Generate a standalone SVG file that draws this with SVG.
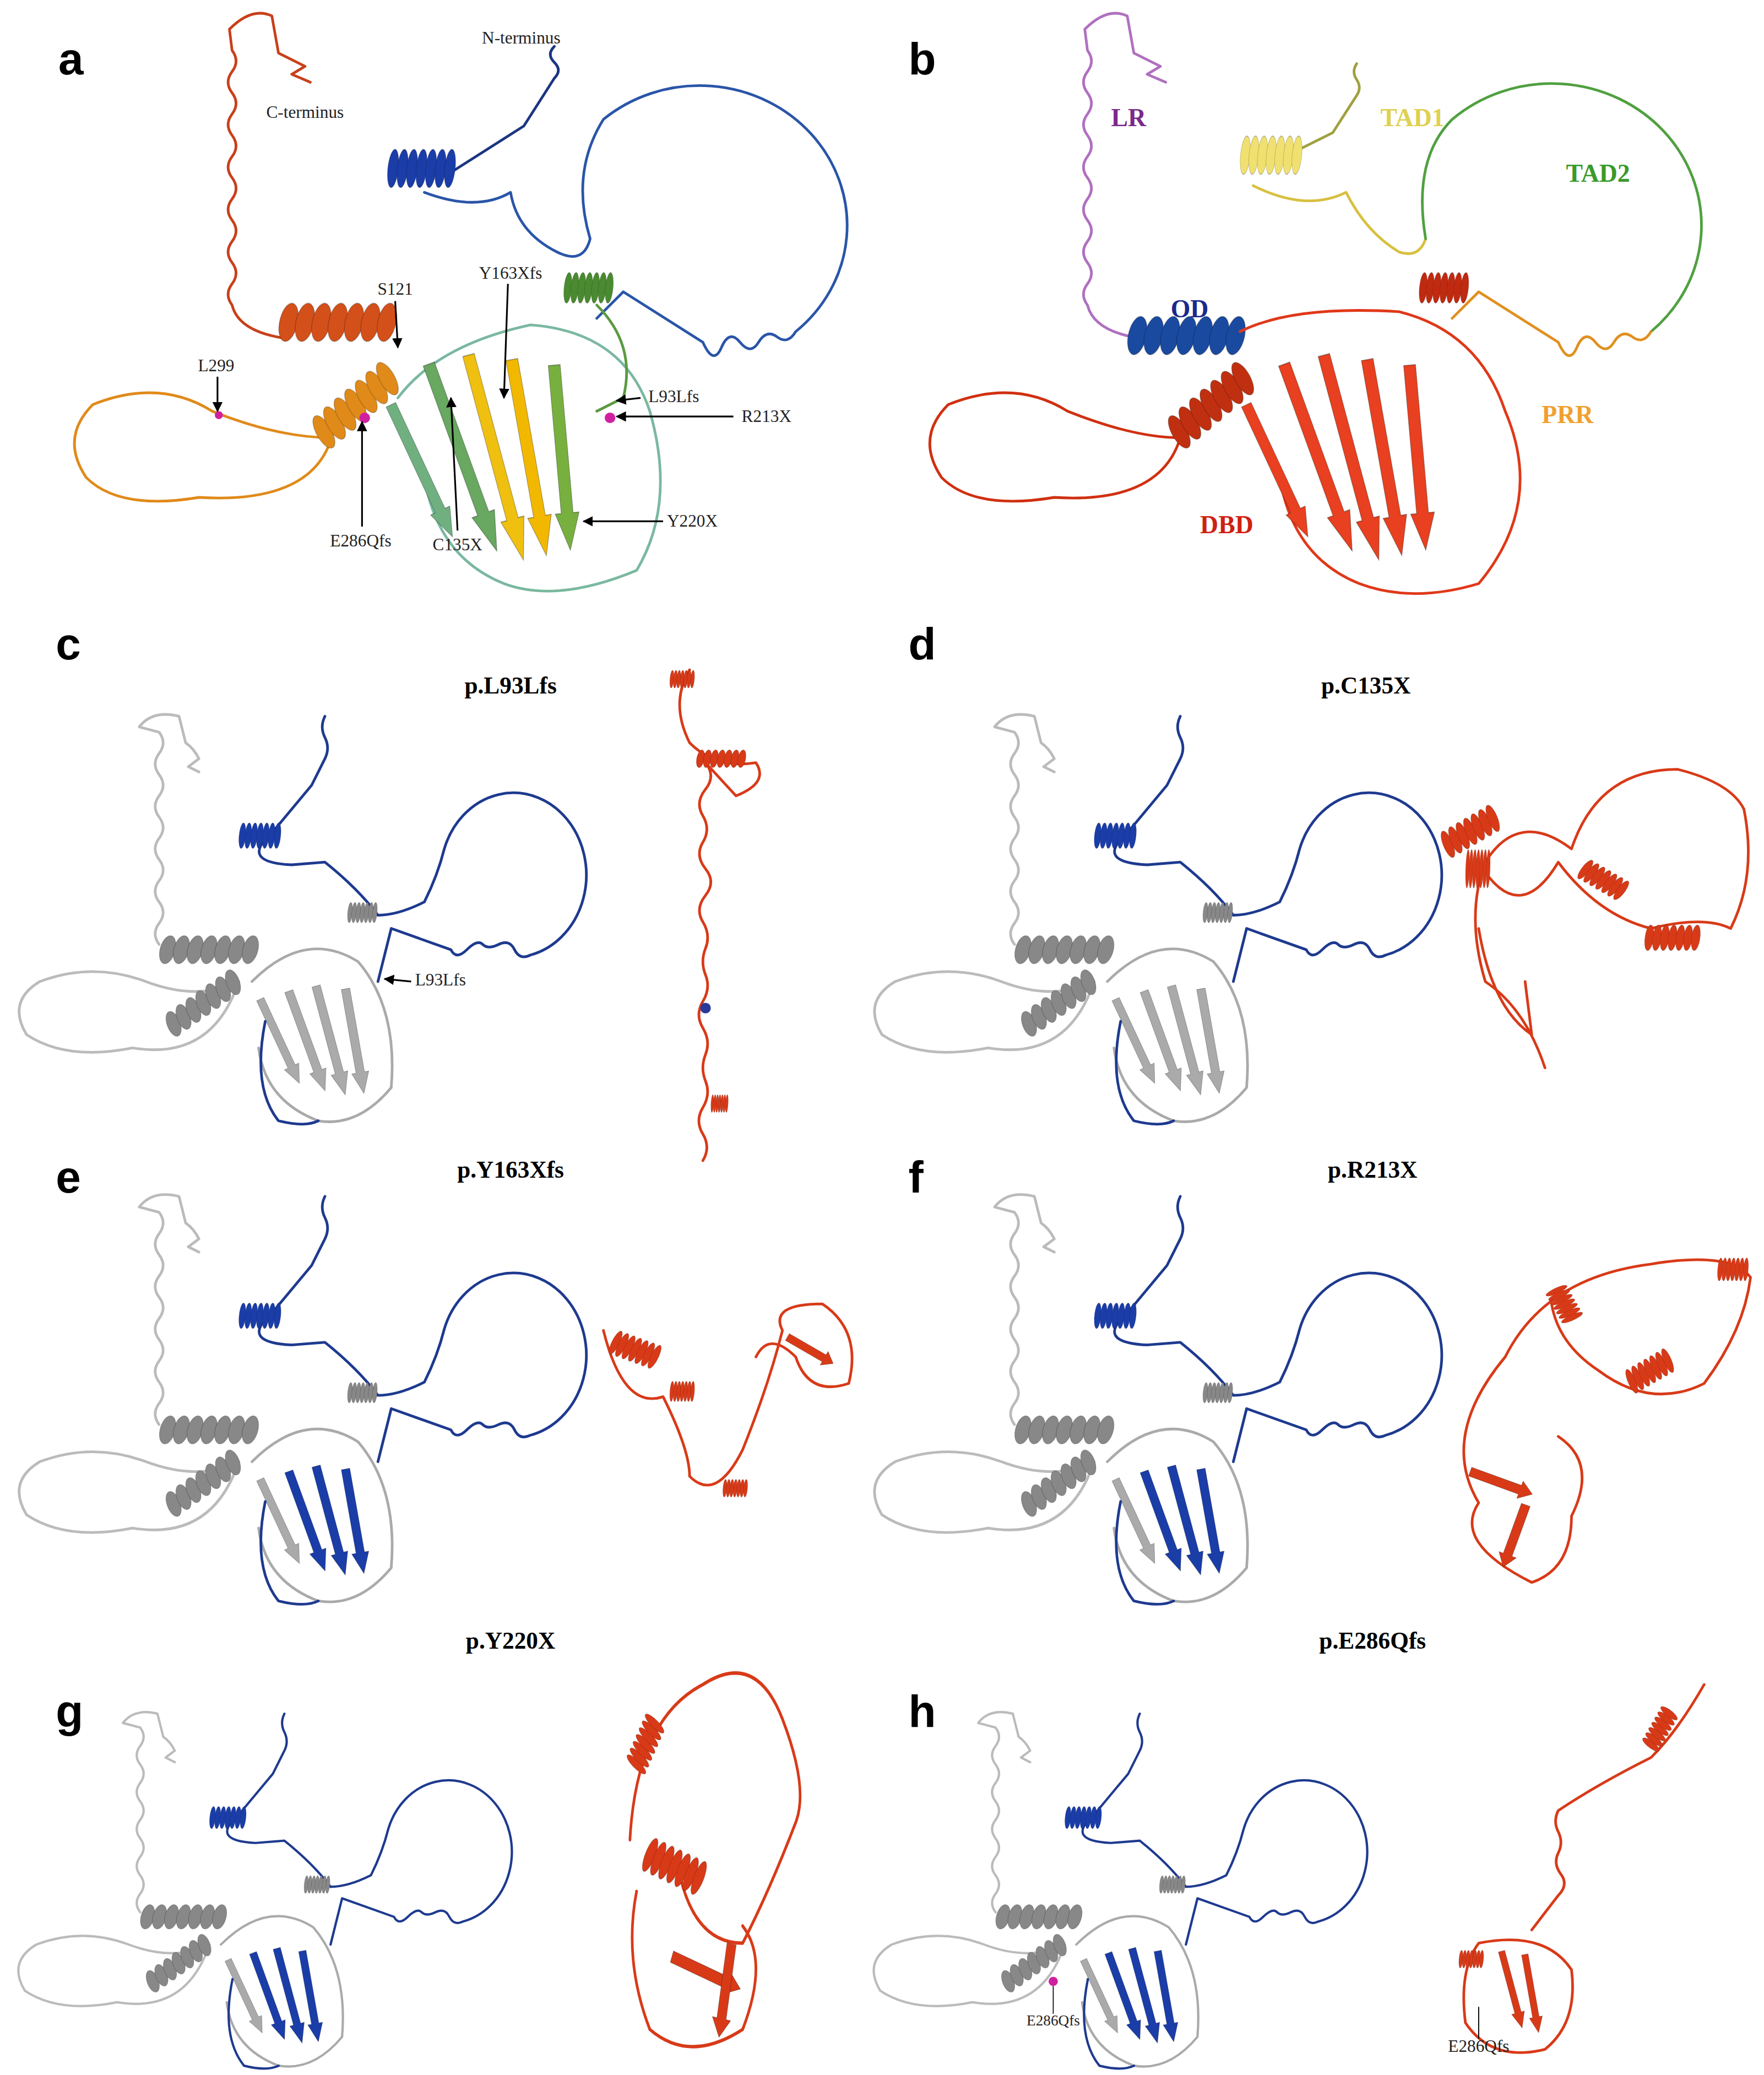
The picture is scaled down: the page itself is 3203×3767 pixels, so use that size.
<svg xmlns="http://www.w3.org/2000/svg" xmlns:xlink="http://www.w3.org/1999/xlink" width="3203" height="3767" viewBox="0 0 3203 3767">
<style>
.pl{font-family:"Liberation Sans",Arial,sans-serif;font-weight:bold;font-size:34px;fill:#000}
.ti{font-family:"Liberation Serif","Times New Roman",serif;font-weight:bold;font-size:18px;fill:#000;text-anchor:middle}
.lb{font-family:"Liberation Serif","Times New Roman",serif;font-size:13px;fill:#222}
.dm{font-family:"Liberation Serif","Times New Roman",serif;font-weight:bold;font-size:19px}
.w{fill:none;stroke-width:2;stroke-linecap:round;stroke-linejoin:round}
.ar{stroke:#000;stroke-width:1.3;fill:none;marker-end:url(#ah)}
</style>
<defs>
<marker id="ah" viewBox="0 0 10 10" refX="9" refY="5" markerWidth="6" markerHeight="6" orient="auto"><path d="M0,0 L10,5 L0,10 z" fill="#000"/></marker>
<symbol id="helix" viewBox="0 0 100 24" preserveAspectRatio="none" overflow="visible">
<g fill="currentColor" stroke="#000" stroke-opacity="0.25" stroke-width="0.6">
<ellipse cx="8" cy="12" rx="7" ry="12" transform="rotate(20 8 12)"/><ellipse cx="21" cy="12" rx="7" ry="12" transform="rotate(20 21 12)"/><ellipse cx="34" cy="12" rx="7" ry="12" transform="rotate(20 34 12)"/><ellipse cx="47" cy="12" rx="7" ry="12" transform="rotate(20 47 12)"/><ellipse cx="60" cy="12" rx="7" ry="12" transform="rotate(20 60 12)"/><ellipse cx="73" cy="12" rx="7" ry="12" transform="rotate(20 73 12)"/><ellipse cx="86" cy="12" rx="7" ry="12" transform="rotate(20 86 12)"/></g>
</symbol>
<symbol id="beta" viewBox="0 0 20 100" preserveAspectRatio="none" overflow="visible"><path d="M5,0 L15,0 L15,80 L20,80 L10,100 L0,80 L5,80 z" fill="currentColor" stroke="#000" stroke-opacity="0.3" stroke-width="0.6"/></symbol>
<symbol id="tmpl" overflow="visible">
<path class="w" stroke="#bbb" d="M120,712 q-6,-8 0,-16 t0,-16 t0,-16 t0,-16 t0,-16 t0,-16 t0,-16 t0,-16 t0,-16 t0,-16 L105,548 Q115,535 135,540 L140,560 q6,4 10,12 l-8,6 l8,4"/>
<path class="w" stroke="#1e3a8f" d="M245,540 q-4,8 0,16 t0,16 l-10,20 L205,628 Q180,650 220,652 L245,650 Q270,670 285,690 Q300,690 320,680 Q330,660 335,640 A55,62 0 1 1 400,720 q-8,4 -12,-4 t-12,-4 t-12,0 t-12,4 t-12,0 L295,700 L285,740"/>
<use href="#helix" x="180" y="620" width="34" height="20" color="#1a3da8"/>
<path class="w" stroke="#bbb" d="M180,740 Q160,800 100,790 Q50,800 20,780 Q5,755 30,740 Q70,725 110,740 Q150,755 180,740"/>
<use href="#helix" x="120" y="705" width="80" height="22" color="#888"/>
<use href="#helix" x="120" y="720" width="70" height="20" color="#888" transform="rotate(-35 155 755) translate(0 25)"/>
<path class="w" stroke="#aaa" d="M190,740 Q230,700 270,725 Q300,760 295,820 Q270,850 240,845 Q200,830 195,790"/>
<use href="#beta" x="225" y="745" width="13" height="80" transform="rotate(-20 231 785)"/>
<use href="#beta" x="243" y="742" width="13" height="85" transform="rotate(-15 249 785)"/>
<use href="#beta" x="261" y="745" width="13" height="80" transform="rotate(-10 267 785)"/>
<use href="#beta" x="205" y="750" width="12" height="70" color="#aaa" transform="rotate(-25 211 785)"/>
<use href="#helix" x="262" y="680" width="24" height="16" color="#888"/>
<path class="w" stroke="#1e3a8f" d="M200,770 Q190,820 210,845 Q230,850 240,845"/>
</symbol>
</defs>
<rect width="3203" height="3767" fill="#fff"/>
<g transform="scale(2.408)">
<g id="labels">
<text class="pl" x="44" y="56">a</text><text class="pl" x="685" y="56">b</text>
<text class="pl" x="42" y="497">c</text><text class="pl" x="685" y="497">d</text>
<text class="pl" x="42" y="899">e</text><text class="pl" x="685" y="899">f</text>
<text class="pl" x="42" y="1302">g</text><text class="pl" x="685" y="1302">h</text>
<text class="ti" x="385" y="523">p.L93Lfs</text><text class="ti" x="1030" y="523">p.C135X</text>
<text class="ti" x="385" y="888">p.Y163Xfs</text><text class="ti" x="1035" y="888">p.R213X</text>
<text class="ti" x="385" y="1243">p.Y220X</text><text class="ti" x="1035" y="1243">p.E286Qfs</text>
</g>
<g id="panel-a">
<path class="w" stroke="#c8401a" d="M215,255 Q180,250 175,230 q-6,-8 0,-16 t0,-16 t0,-16 t0,-16 t0,-16 t0,-16 t0,-16 t0,-16 t0,-16 t0,-16 t0,-16 t0,-16 L173,22 Q190,5 205,12 L210,40 q8,4 20,10 l-10,6 l14,6"/>
<path class="w" stroke="#1b3680" d="M418,35 q-6,6 0,12 t0,12 L395,95 L340,130"/>
<use href="#helix" x="292" y="112" width="55" height="30" color="#1a3da8"/>
<path class="w" stroke="#2a55a8" d="M320,145 Q360,160 385,145 Q390,175 420,190 Q440,200 445,180 Q430,130 455,90 A95,90 0 1 1 600,250 q-6,10 -14,4 t-14,4 t-14,0 t-14,4 t-14,-4 L470,220 L450,240"/>
<path class="w" stroke="#e08a1a" d="M250,330 Q235,380 150,375 Q90,385 65,360 Q45,330 70,305 Q120,285 160,310 Q210,330 250,330"/>
<use href="#helix" x="210" y="228" width="95" height="30" color="#d4501a"/>
<use href="#helix" x="230" y="290" width="80" height="28" color="#e08a1a" transform="rotate(-40 270 304)"/>
<path class="w" stroke="#7ab8a0" d="M300,300 Q330,260 400,245 Q470,250 490,310 Q510,380 480,430 Q420,455 380,440 Q330,420 320,360"/>
<use href="#beta" x="340" y="270" width="18" height="150" color="#68a860" transform="rotate(-20 349 345)"/>
<use href="#beta" x="365" y="265" width="18" height="160" color="#f0c010" transform="rotate(-15 374 345)"/>
<use href="#beta" x="390" y="270" width="18" height="150" color="#f2b800" transform="rotate(-10 399 345)"/>
<use href="#beta" x="415" y="275" width="18" height="140" color="#78b040" transform="rotate(-5 424 345)"/>
<use href="#beta" x="310" y="300" width="16" height="110" color="#70b080" transform="rotate(-25 318 355)"/>
<use href="#helix" x="425" y="205" width="40" height="24" color="#4a8a30"/>
<path class="w" stroke="#5a9a40" d="M450,230 Q480,260 470,300 L450,310"/>
<circle cx="165" cy="313" r="3" fill="#d020a0"/><circle cx="275" cy="315" r="4" fill="#d020a0"/><circle cx="460" cy="315" r="4" fill="#d020a0"/>
<text class="lb" x="393" y="33" text-anchor="middle">N-terminus</text>
<text class="lb" x="230" y="89" text-anchor="middle">C-terminus</text>
<text class="lb" x="298" y="222" text-anchor="middle">S121</text>
<text class="lb" x="385" y="210" text-anchor="middle">Y163Xfs</text>
<text class="lb" x="163" y="280" text-anchor="middle">L299</text>
<text class="lb" x="508" y="303" text-anchor="middle">L93Lfs</text>
<text class="lb" x="578" y="318" text-anchor="middle">R213X</text>
<text class="lb" x="272" y="412" text-anchor="middle">E286Qfs</text>
<text class="lb" x="345" y="415" text-anchor="middle">C135X</text>
<text class="lb" x="522" y="397" text-anchor="middle">Y220X</text>
<path class="ar" d="M298,227 L300,262"/><path class="ar" d="M383,214 L380,300"/>
<path class="ar" d="M164,284 L164,310"/><path class="ar" d="M483,300 L465,302"/>
<path class="ar" d="M553,314 L465,314"/><path class="ar" d="M273,397 L273,318"/>
<path class="ar" d="M345,400 L340,300"/><path class="ar" d="M500,393 L440,393"/>
</g>
<g id="panel-b" transform="translate(645 0)">
<path class="w" stroke="#b070c0" d="M215,255 Q180,250 175,230 q-6,-8 0,-16 t0,-16 t0,-16 t0,-16 t0,-16 t0,-16 t0,-16 t0,-16 t0,-16 t0,-16 t0,-16 t0,-16 L173,22 Q190,5 205,12 L210,40 q8,4 20,10 l-10,6 l14,6"/>
<path class="w" stroke="#a0a040" d="M378,48 q-4,6 0,12 t0,12 L360,100 L330,115"/>
<use href="#helix" x="290" y="102" width="50" height="30" color="#f0e070"/>
<path class="w" stroke="#d8c040" d="M300,140 Q340,160 370,145 Q385,175 410,190 Q425,195 430,180"/>
<path class="w" stroke="#50a040" d="M430,180 Q420,120 450,90 A95,90 0 1 1 600,250"/>
<path class="w" stroke="#e09020" d="M600,250 q-6,10 -14,4 t-14,4 t-14,0 t-14,4 t-14,-4 L470,220 L450,240"/>
<path class="w" stroke="#d03010" d="M245,330 Q230,380 150,375 Q90,385 65,360 Q45,330 70,305 Q120,285 160,310 Q210,330 245,330"/>
<use href="#helix" x="205" y="238" width="95" height="30" color="#1a4aa0"/>
<use href="#helix" x="230" y="290" width="80" height="28" color="#c03010" transform="rotate(-40 270 304)"/>
<path class="w" stroke="#e03818" d="M290,250 Q330,230 410,235 Q470,250 490,310 Q520,380 470,440 Q420,455 380,440 Q330,420 320,360"/>
<g color="#e84020">
<use href="#beta" x="340" y="270" width="18" height="150" transform="rotate(-20 349 345)"/>
<use href="#beta" x="365" y="265" width="18" height="160" transform="rotate(-15 374 345)"/>
<use href="#beta" x="390" y="270" width="18" height="150" transform="rotate(-10 399 345)"/>
<use href="#beta" x="415" y="275" width="18" height="140" transform="rotate(-5 424 345)"/>
<use href="#beta" x="310" y="300" width="16" height="110" transform="rotate(-25 318 355)"/>
</g>
<use href="#helix" x="425" y="205" width="40" height="24" color="#c02a10"/>
<text class="dm" x="206" y="95" text-anchor="middle" fill="#7a2a8a">LR</text>
<text class="dm" x="420" y="95" text-anchor="middle" fill="#e0d050">TAD1</text>
<text class="dm" x="560" y="137" text-anchor="middle" fill="#3a9a2a">TAD2</text>
<text class="dm" x="252" y="239" text-anchor="middle" fill="#1a2a8a">OD</text>
<text class="dm" x="537" y="319" text-anchor="middle" fill="#f0a030">PRR</text>
<text class="dm" x="280" y="402" text-anchor="middle" fill="#d02010">DBD</text>
</g>
<g id="panel-c"><use href="#tmpl" color="#aaa"/>
<text class="lb" x="313" y="743" font-size="7">L93Lfs</text><path class="ar" d="M310,740 L290,738" stroke-width="0.6"/>
<path class="w" stroke="#d83a18" stroke-width="1" d="M530,875 q6,-10 0,-20 t0,-20 t2,-20 t0,-20 t-2,-20 t0,-20 t2,-20 t0,-20 t-2,-20 t2,-20 t0,-20 t-2,-20 t0,-20 t2,-20 t0,-20 L555,600 Q580,590 570,575 Q540,580 520,560 Q505,530 520,505"/>
<use href="#helix" x="525" y="565" width="40" height="14" color="#d83a18"/><use href="#helix" x="505" y="505" width="20" height="14" color="#d83a18"/>
<circle cx="532" cy="760" r="4" fill="#2a3a9a"/><use href="#helix" x="536" y="825" width="14" height="14" color="#d83a18"/>
</g>
<g id="panel-d" transform="translate(645 0)"><use href="#tmpl" color="#aaa"/>
<path class="w" stroke="#d83a18" stroke-width="1.2" d="M520,805 Q505,760 475,740 Q460,690 475,650 Q500,610 540,640 Q560,580 620,580 Q660,590 670,610 Q680,660 660,700 Q640,690 600,700 Q560,690 530,650 Q500,700 470,650"/>
<use href="#helix" x="440" y="615" width="50" height="22" color="#d83a18" transform="rotate(-30 465 626)"/>
<use href="#helix" x="545" y="655" width="40" height="18" color="#d83a18" transform="rotate(30 565 664)"/>
<use href="#helix" x="595" y="697" width="45" height="20" color="#d83a18"/>
<use href="#helix" x="460" y="640" width="20" height="30" color="#d83a18"/>
<path class="w" stroke="#d83a18" stroke-width="1" d="M470,700 Q480,760 510,780 L505,740"/>
</g>
<g id="panel-e">
<use href="#tmpl" color="#1a3da8" transform="translate(0 362)"/>
<g transform="translate(0 403)">
<path class="w" stroke="#d83a18" stroke-width="1.1" d="M455,600 Q470,660 500,650 Q520,690 520,710 Q540,730 560,690 Q580,640 590,600 Q580,580 620,580 Q650,600 640,640 Q610,650 600,620 Q580,600 570,620"/>
<use href="#helix" x="460" y="605" width="40" height="20" color="#d83a18" transform="rotate(20 480 615)"/>
<use href="#helix" x="505" y="638" width="20" height="16" color="#d83a18"/><use href="#helix" x="545" y="712" width="20" height="14" color="#d83a18"/>
<use href="#beta" x="605" y="595" width="12" height="40" color="#d83a18" transform="rotate(-60 611 615)"/>
</g></g>
<g id="panel-f" transform="translate(645 0)">
<use href="#tmpl" color="#1a3da8" transform="translate(0 362)"/>
<g transform="translate(0 403)">
<path class="w" stroke="#d83a18" stroke-width="1.1" d="M490,620 Q520,560 600,550 Q660,540 675,560 Q670,600 640,640 Q600,660 560,630 Q530,610 525,580 M490,620 Q440,680 470,730 Q450,760 510,790 Q540,780 540,740 Q560,700 530,680"/>
<use href="#helix" x="520" y="572" width="30" height="18" color="#d83a18" transform="rotate(60 535 581)"/>
<use href="#helix" x="580" y="620" width="40" height="20" color="#d83a18" transform="rotate(-30 600 630)"/>
<use href="#helix" x="650" y="545" width="25" height="18" color="#d83a18"/>
<use href="#beta" x="480" y="690" width="14" height="50" color="#d83a18" transform="rotate(-70 487 715)"/>
<use href="#beta" x="490" y="730" width="14" height="50" color="#d83a18" transform="rotate(20 497 755)"/>
</g></g>
<g id="panel-g">
<use href="#tmpl" color="#1a3da8" transform="translate(10 1292) scale(0.87) translate(-10 -540)"/>
<g transform="translate(0 1270) scale(1 1.3) translate(0 -540)">
<path class="w" stroke="#d83a18" stroke-width="1.1" d="M475,630 Q480,560 530,540 Q570,520 590,560 Q610,600 600,620 Q580,660 560,690 Q520,690 510,640 M480,660 Q470,700 490,740 Q520,760 560,740 Q580,700 560,680"/>
<use href="#helix" x="470" y="565" width="35" height="18" color="#d83a18" transform="rotate(-60 487 574)"/>
<use href="#helix" x="485" y="635" width="50" height="22" color="#d83a18" transform="rotate(20 510 646)"/>
<use href="#beta" x="525" y="680" width="14" height="55" color="#d83a18" transform="rotate(-70 532 707)"/>
<use href="#beta" x="540" y="690" width="14" height="55" color="#d83a18" transform="rotate(10 547 717)"/>
</g></g>
<g id="panel-h" transform="translate(645 0)">
<g transform="translate(10 1292) scale(0.87) translate(-10 -540)"><use href="#tmpl" color="#1a3da8"/>
<circle cx="170" cy="772" r="4" fill="#d020a0"/>
<text class="lb" x="170" y="810" font-size="9" text-anchor="middle">E286Qfs</text><path d="M170,800 L170,776" stroke="#000" stroke-width="0.8"/>
</g>
<g transform="translate(0 765)">
<path class="w" stroke="#d83a18" stroke-width="0.8" d="M640,505 Q620,540 600,560 Q560,580 530,600 q-4,8 0,16 t0,16 t2,16 t-2,16 L510,690"/>
<use href="#helix" x="590" y="530" width="35" height="16" color="#d83a18" transform="rotate(-60 607 538)"/>
<path class="w" stroke="#d83a18" stroke-width="1" d="M470,700 Q520,690 540,720 Q545,760 520,780 Q480,790 460,760 Q455,720 470,700"/>
<g color="#d83a18"><use href="#beta" x="490" y="705" width="10" height="60" transform="rotate(-15 495 735)"/><use href="#beta" x="505" y="708" width="10" height="60" transform="rotate(-10 510 738)"/></g>
<use href="#helix" x="455" y="705" width="20" height="14" color="#d83a18"/>
<text class="lb" x="470" y="782" font-size="8" text-anchor="middle">E286Qfs</text><path d="M470,772 L470,748" stroke="#000" stroke-width="0.8"/>
</g></g>
</g>
</svg>
